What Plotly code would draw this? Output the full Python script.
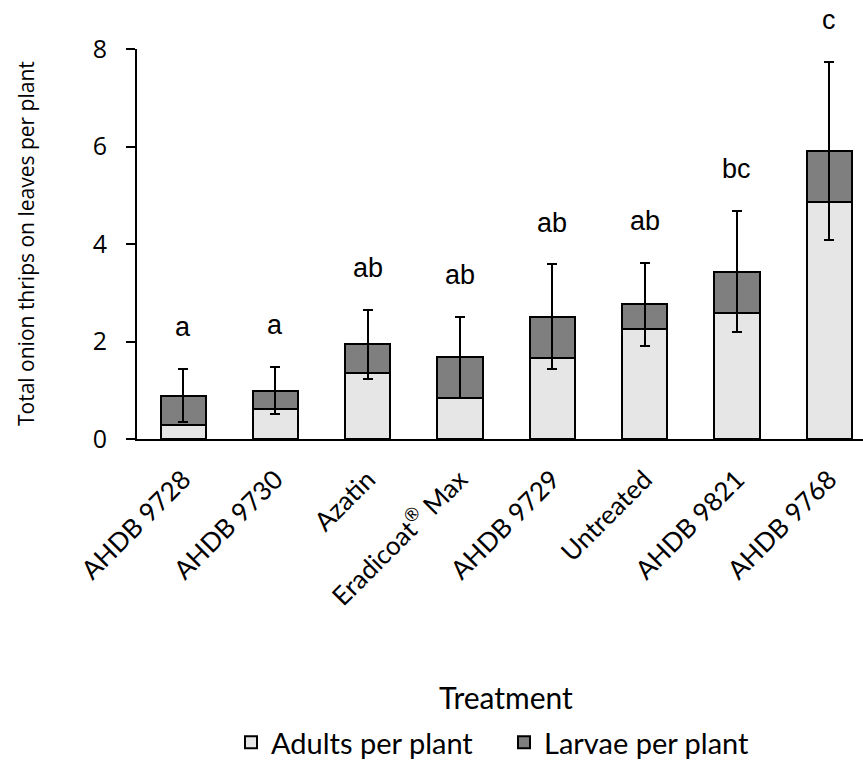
import plotly.graph_objects as go

# Treatments, in plotted order
treatments = ["AHDB 9728", "AHDB 9730", "Azatin", "Eradicoat<sup>®</sup> Max",
              "AHDB 9729", "Untreated", "AHDB 9821", "AHDB 9768"]

# Mean thrips counts per plant (stacked: adults + larvae)
adults = [0.29, 0.62, 1.36, 0.85, 1.67, 2.25, 2.58, 4.86]
larvae = [0.60, 0.37, 0.58, 0.83, 0.84, 0.51, 0.85, 1.05]

# Error (± on the total count)
total_err = [0.55, 0.48, 0.70, 0.83, 1.07, 0.85, 1.24, 1.83]

# Significance groupings
letters = ["a", "a", "ab", "ab", "ab", "ab", "bc", "c"]

y_ticks = [0, 2, 4, 6, 8]
Y_MAX = 8

W, H = 863, 769
ML, MR, MT, MB = 137, 0, 49, 330

LIGHT = "#E7E6E6"
DARK = "#7F7F7F"
TICK_FONT = "Open Sans"
LABEL_FONT = "Lato"

fig = go.Figure()
fig.add_trace(go.Bar(
    x=treatments, y=adults, name="Adults per plant",
    marker=dict(color=LIGHT, line=dict(color="black", width=2)),
    width=0.49,
))
fig.add_trace(go.Bar(
    x=treatments, y=larvae, name="Larvae per plant",
    marker=dict(color=DARK, line=dict(color="black", width=2)),
    width=0.49,
    error_y=dict(type="data", array=total_err, visible=True,
                 color="black", thickness=2, width=5),
))

# Grouping letters above each error bar (paper y so the top one is not clipped)
for i, (a, l, e, s) in enumerate(zip(adults, larvae, total_err, letters)):
    fig.add_annotation(
        x=i, y=(a + l + e + 0.86) / Y_MAX, xref="x", yref="paper",
        text=s, showarrow=False, yanchor="middle",
        font=dict(family="Liberation Sans", size=27, color="black"),
    )

plot_w = W - ML - MR
plot_h = H - MT - MB
base_px = MT + plot_h  # pixel row of the x axis


def paper_y(px):
    return -(px - base_px) / plot_h


# Axis titles placed as annotations
fig.add_annotation(
    x=(26 - ML) / plot_w, y=0.5, xref="paper", yref="paper",
    text="Total onion thrips on leaves per plant", textangle=-90,
    showarrow=False, xanchor="center", yanchor="middle",
    font=dict(family=TICK_FONT, size=21, color="black"),
)
fig.add_annotation(
    x=(506 - ML) / plot_w, y=paper_y(697),
    xref="paper", yref="paper",
    text="Treatment", showarrow=False, xanchor="center", yanchor="middle",
    font=dict(family=LABEL_FONT, size=30, color="black"),
)

fig.update_layout(
    width=W, height=H,
    margin=dict(l=ML, r=MR, t=MT, b=MB, pad=0),
    paper_bgcolor="white", plot_bgcolor="white",
    barmode="stack",
    showlegend=True,
    legend=dict(
        orientation="h", x=(504 - ML) / plot_w, xanchor="center",
        y=paper_y(768), yanchor="bottom",
        font=dict(family=LABEL_FONT, size=29, color="black"),
        itemsizing="constant", traceorder="normal",
        entrywidth=228,
        bgcolor="rgba(0,0,0,0)",
    ),
    xaxis=dict(
        range=[-0.5, -0.5 + plot_w / 92.3],
        showline=True, linecolor="black", linewidth=2,
        ticks="", showgrid=False, zeroline=False,
        tickangle=-45, ticklabelstandoff=13,
        tickfont=dict(family=LABEL_FONT, size=26, color="black"),
    ),
    yaxis=dict(
        range=[0, Y_MAX], tickvals=y_ticks,
        showline=True, linecolor="black", linewidth=2,
        ticks="outside", ticklen=9, tickwidth=2, tickcolor="black",
        ticklabelstandoff=14,
        showgrid=False, zeroline=False,
        tickfont=dict(family=TICK_FONT, size=25, color="black"),
    ),
)

fig.write_html("out.html")
